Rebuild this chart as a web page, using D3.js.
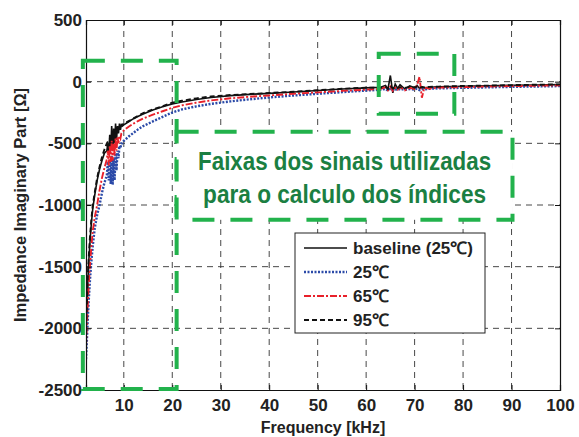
<!DOCTYPE html>
<html>
<head>
<meta charset="utf-8">
<script src="https://cdn.jsdelivr.net/npm/d3@7"></script>
<style>
  body { margin: 0; background: #fff; }
  svg text { font-family: "Liberation Sans", Arial, sans-serif; font-weight: bold; }
</style>
</head>
<body>
<div id="chart"></div>
<script>
// frequency in kHz
const freq = [2.2, 2.4, 2.6, 2.8, 3.0, 3.3, 3.6, 4.0, 4.5, 5.0, 5.5, 6.0,
    6.5, 6.7, 6.9, 7.1, 7.3, 7.5, 7.7, 7.9, 8.1, 8.3, 8.5, 8.7, 8.9, 9.1, 9.3, 9.5, 9.7, 10,
    11, 12, 13, 14, 16, 18, 20, 22, 25, 28, 32, 36, 40, 45, 50, 55, 60,
    63, 64, 64.5, 65, 65.5, 66, 66.5, 67, 68, 69, 70, 70.5, 71, 71.5, 72, 73,
    75, 80, 85, 90, 95, 100];

const baseline = [-2050, -1830, -1600, -1440, -1310, -1150, -1030, -920, -800, -710, -640, -580,
    -560, -500, -580, -430, -560, -360, -540, -380, -500, -340, -470, -360, -420, -340, -390, -350, -360, -350,
    -325, -300, -280, -262, -230, -204, -180, -165, -145, -128, -113, -103, -95, -84, -72, -60, -50,
    -45, -30, -60, 50, -90, -20, -55, -25, -60, -35, -50, -30, -55, -40, -50, -45,
    -42, -37, -34, -30, -27, -24];

const t25 = [-2250, -2080, -1900, -1750, -1620, -1460, -1330, -1190, -1080, -1000, -900, -820,
    -760, -650, -800, -640, -830, -600, -836, -620, -800, -580, -720, -560, -620, -520, -540, -500, -500, -480,
    -445, -415, -385, -360, -322, -285, -250, -225, -200, -180, -160, -143, -128, -112, -98, -85, -72,
    -65, -60, -72, -58, -70, -60, -68, -58, -66, -60, -64, -56, -68, -60, -62, -58,
    -54, -50, -46, -42, -39, -36];

const t65 = [-2150, -1950, -1780, -1620, -1500, -1340, -1210, -1100, -1000, -880, -780, -700,
    -630, -560, -680, -520, -650, -480, -640, -500, -600, -460, -560, -450, -500, -440, -460, -420, -410, -395,
    -365, -340, -318, -298, -268, -240, -212, -192, -170, -152, -135, -122, -112, -98, -87, -75, -65,
    -58, -45, -70, -40, -75, -50, -65, -45, -70, -50, -60, -30, 40, -130, -50, -55,
    -48, -44, -40, -36, -33, -30];

const t95 = [-2000, -1780, -1550, -1400, -1270, -1120, -1000, -900, -780, -690, -610, -550,
    -500, -487, -475, -463, -452, -440, -430, -420, -410, -400, -392, -384, -376, -368, -360, -354, -348, -342,
    -320, -298, -275, -255, -225, -200, -170, -155, -135, -120, -108, -100, -92, -82, -70, -58, -48,
    -50, -40, -60, -35, -55, -42, -52, -45, -50, -42, -48, -40, -50, -44, -46, -42,
    -40, -35, -32, -28, -25, -22];

const xTicks = [10, 20, 30, 40, 50, 60, 70, 80, 90, 100];
const yTicks = [-2500, -2000, -1500, -1000, -500, 0, 500];

const seriesNames = ['baseline (25\u2103)', '25\u2103', '65\u2103', '95\u2103'];
const seriesData = [baseline, t25, t65, t95];
const seriesColors = ['#111', '#2b4aa8', '#e8202a', '#111'];
const seriesDash = [null, '2,1.5', '7,2,2,2', '5,3'];
const seriesWidth = [1.6, 2.4, 1.9, 1.9];

// annotation boxes in data units: [f0, f1, v0, v1]
const boxes = [[1.55, 20.9, 170, -2492], [20.9, 90.2, -406, -1120], [62.6, 78.2, 227, -260]];
const noteLines = ['Faixas dos sinais utilizadas', 'para o calculo dos \u00edndices'];
const noteWidths = [293, 283];

const W = 579, H = 437;
const margin = {top: 20, right: 19, bottom: 47, left: 86};
const width = W - margin.left - margin.right;
const height = H - margin.top - margin.bottom;

const svg = d3.select('#chart').append('svg')
    .attr('width', W)
    .attr('height', H);

const g = svg.append('g')
    .attr('transform', 'translate(' + margin.left + ',' + margin.top + ')');

const x = d3.scaleLinear().domain([2.2, 100]).range([0, width]);
const y = d3.scaleLinear().domain([-2500, 500]).range([height, 0]);

// grid
g.append('g').selectAll('line').data(xTicks.slice(0, -1)).join('line')
    .attr('x1', d => x(d)).attr('x2', d => x(d))
    .attr('y1', 0).attr('y2', height)
    .attr('stroke', '#333').attr('stroke-width', 0.9).attr('stroke-dasharray', '6,5');
g.append('g').selectAll('line').data(yTicks.slice(1, -1)).join('line')
    .attr('x1', 0).attr('x2', width)
    .attr('y1', d => y(d)).attr('y2', d => y(d))
    .attr('stroke', '#333').attr('stroke-width', 0.9).attr('stroke-dasharray', '6,5');

// curves
g.append('clipPath').attr('id', 'clip').append('rect')
    .attr('width', width).attr('height', height);

const line = d3.line()
    .x((d, i) => x(freq[i]))
    .y(d => y(d));

const curves = g.append('g').attr('clip-path', 'url(#clip)');
seriesData.forEach((s, k) => {
    curves.append('path')
        .attr('d', line(s))
        .attr('fill', 'none')
        .attr('stroke', seriesColors[k])
        .attr('stroke-width', seriesWidth[k])
        .attr('stroke-dasharray', seriesDash[k]);
});

// axes (ticks pointing inward, MATLAB style)
const fmt = d => String(d);
const xAxis = g.append('g').attr('transform', 'translate(0,' + height + ')')
    .call(d3.axisBottom(x).tickValues(xTicks).tickSize(-5).tickPadding(9).tickFormat(fmt));
g.append('g').call(d3.axisTop(x).tickValues(xTicks).tickSize(-5).tickFormat(''));
const yAxis = g.append('g')
    .call(d3.axisLeft(y).tickValues(yTicks).tickSize(-5).tickPadding(4).tickFormat(fmt));
g.append('g').attr('transform', 'translate(' + width + ',0)')
    .call(d3.axisRight(y).tickValues(yTicks).tickSize(-5).tickFormat(''));

g.selectAll('.domain').attr('stroke', '#111').attr('stroke-width', 1.2);
g.selectAll('.tick line').attr('stroke', '#111');
xAxis.selectAll('text').attr('font-size', 17).attr('fill', '#222');
yAxis.selectAll('text').attr('font-size', 17).attr('fill', '#222');

// axis titles
svg.append('text')
    .attr('x', margin.left + width / 2).attr('y', 433)
    .attr('text-anchor', 'middle').attr('font-size', 16).attr('fill', '#222')
    .text('Frequency [kHz]');
svg.append('text')
    .attr('transform', 'translate(26,' + (margin.top + height / 2) + ') rotate(-90)')
    .attr('text-anchor', 'middle').attr('font-size', 16.5).attr('fill', '#222')
    .text('Impedance Imaginary Part [\u03a9]');

// green annotation boxes
const green = '#22b24c';
boxes.forEach((b, i) => {
    g.append('rect')
        .attr('x', x(b[0])).attr('y', y(b[2]))
        .attr('width', x(b[1]) - x(b[0])).attr('height', y(b[3]) - y(b[2]))
        .attr('fill', i === 1 ? '#fff' : 'none')
        .attr('stroke', green).attr('stroke-width', 4)
        .attr('stroke-dasharray', '22,16');
});
const nb = boxes[1];
const cx = (x(nb[0]) + x(nb[1])) / 2;
noteLines.forEach((t, i) => {
    g.append('text')
        .attr('x', cx).attr('y', y(nb[2]) + 38 + i * 33)
        .attr('text-anchor', 'middle')
        .attr('font-family', 'Lato, "Open Sans", sans-serif')
        .attr('font-size', 25).attr('fill', '#1b7f42')
        .attr('textLength', noteWidths[i])
        .attr('lengthAdjust', 'spacingAndGlyphs')
        .text(t);
});

// legend
const leg = g.append('g').attr('transform', 'translate(' + (295 - margin.left) + ',' + (233 - margin.top) + ')');
leg.append('rect').attr('width', 190).attr('height', 100)
    .attr('fill', '#fff').attr('stroke', '#222').attr('stroke-width', 1);
seriesNames.forEach((n, k) => {
    const yy = 15 + k * 24;
    leg.append('line')
        .attr('x1', 9).attr('x2', 52).attr('y1', yy).attr('y2', yy)
        .attr('stroke', seriesColors[k]).attr('stroke-width', seriesWidth[k])
        .attr('stroke-dasharray', seriesDash[k]);
    leg.append('text')
        .attr('x', 58).attr('y', yy + 6)
        .attr('font-size', 17).attr('fill', '#222')
        .text(n);
});
</script>
</body>
</html>
